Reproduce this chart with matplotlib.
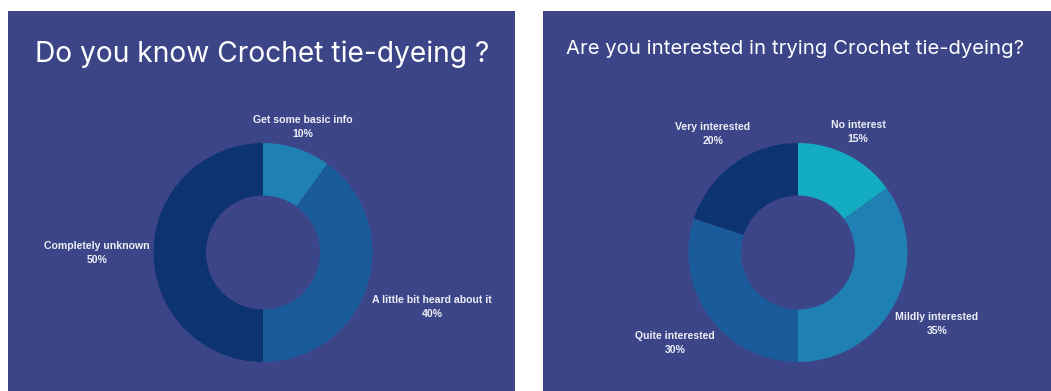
import matplotlib
matplotlib.use("Agg")
import matplotlib.pyplot as plt
from matplotlib.patches import Rectangle

# survey results, clockwise from 12 o'clock
know_labels = ['Get some basic info', 'A little bit heard about it', 'Completely unknown']
know_values = [10, 40, 50]
know_colors = ['#1f80b4', '#1a5b9b', '#0d3470']

interest_labels = ['No interest', 'Mildly interested', 'Quite interested', 'Very interested']
interest_values = [15, 35, 30, 20]
interest_colors = ['#13acc0', '#1f80b4', '#1a5b9b', '#0d3470']

W, H = 1051, 391
bg = '#3c4587'
txt = '#eceef6'
R_OUT = 109.5
R_IN = 57

# label anchors (pixels from top-left)
know_pos = [(303, 127), (432, 307), (97, 253)]
interest_pos = [(858, 132), (937, 324), (675, 343), (713, 134)]

fig = plt.figure(figsize=(W / 100, H / 100), dpi=100)
fig.patch.set_facecolor('white')
ax = fig.add_axes([0, 0, 1, 1])
ax.set_xlim(0, W)
ax.set_ylim(0, H)
ax.set_aspect('equal')
ax.axis('off')

# slide panels
ax.add_patch(Rectangle((8, 0), 507, H - 11, color=bg, lw=0, zorder=0))
ax.add_patch(Rectangle((543, 0), W - 543, H - 11, color=bg, lw=0, zorder=0))

ax.text(262, H - 61.5, 'Do you know Crochet tie-dyeing ?', color='white',
        fontsize=20.3, family='Inter', ha='center', va='baseline')
ax.text(794.5, H - 53.5, 'Are you interested in trying Crochet tie-dyeing?', color='white',
        fontsize=14.6, family='Inter', ha='center', va='baseline')


def donut(values, labels, colors, cx, cy, pos):
    ax.pie(values, colors=colors, startangle=90, counterclock=False,
           center=(cx, H - cy), radius=R_OUT, frame=True,
           wedgeprops=dict(width=R_OUT - R_IN, linewidth=0))
    for lab, v, (x, y) in zip(labels, values, pos):
        ax.text(x, H - y, '%s\n%d%%' % (lab, v), color=txt, fontsize=7.6,
                fontweight='bold', family='Liberation Sans', ha='center',
                va='center', linespacing=1.4)


donut(know_values, know_labels, know_colors, 263, 252.5, know_pos)
donut(interest_values, interest_labels, interest_colors, 798, 252.5, interest_pos)

ax.set_xlim(0, W)
ax.set_ylim(0, H)
ax.axis('off')

fig.savefig('out.png', dpi=100, facecolor='white')
